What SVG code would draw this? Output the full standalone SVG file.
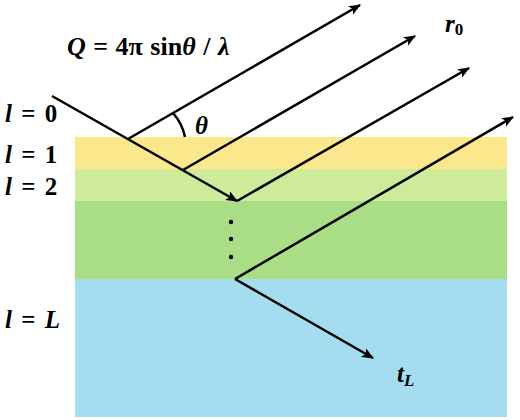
<svg xmlns="http://www.w3.org/2000/svg" width="520" height="420" viewBox="0 0 520 420">
<style>
.ray{stroke:#000;stroke-width:2.5;fill:none}
.arr{marker-end:url(#ah)}
.it{font-style:italic}
</style>
<defs>
<marker id="ah" viewBox="0 0 12 10" refX="11" refY="5" markerWidth="12" markerHeight="10" markerUnits="userSpaceOnUse" orient="auto">
<path d="M0,0 L12,5 L0,10 L3,5 Z" fill="#000"/>
</marker>
</defs>
<rect width="520" height="420" fill="#fff"/>
<g id="layers">
<rect id="layer1" x="75" y="137" width="432" height="32" fill="#FBE88C"/>
<rect id="layer2" x="75" y="169" width="432" height="32" fill="#CDEB9B"/>
<rect id="layer3" x="75" y="201" width="432" height="78" fill="#A9DE86"/>
<rect id="layerL" x="75" y="279" width="432" height="138" fill="#A3DDEF"/>
</g>
<g id="connectors">
<line class="ray arr" x1="52" y1="96" x2="237" y2="201"/>
<line class="ray arr" x1="128" y1="139" x2="360" y2="5"/>
<line class="ray arr" x1="183" y1="170" x2="415" y2="36"/>
<line class="ray arr" x1="237" y1="201" x2="469" y2="68"/>
<line class="ray arr" x1="235" y1="279" x2="513" y2="117"/>
<line class="ray arr" x1="235" y1="279" x2="373" y2="358"/>
<path class="ray" d="M173,113 A52,52 0 0 1 185,137" stroke-width="2"/>
</g>
<g id="dots" fill="#000">
<circle cx="231" cy="222" r="2.2"/>
<circle cx="231" cy="239" r="2.2"/>
<circle cx="231" cy="257" r="2.2"/>
</g>
<g id="labels" font-family="'Liberation Serif', 'Times New Roman', serif" font-weight="bold" font-size="25" fill="#000">
<text x="67" y="55" font-size="26" word-spacing="1"><tspan class="it">Q</tspan> = 4π sin<tspan class="it">θ</tspan> / <tspan class="it">λ</tspan></text>
<text class="it" x="195" y="134">θ</text>
<text x="5" y="122" word-spacing="3"><tspan class="it">l</tspan> = 0</text>
<text x="5" y="163" word-spacing="3"><tspan class="it">l</tspan> = 1</text>
<text x="5" y="195" word-spacing="3"><tspan class="it">l</tspan> = 2</text>
<text x="5" y="328" word-spacing="3"><tspan class="it">l</tspan> = <tspan class="it">L</tspan></text>
<text x="445" y="32"><tspan class="it">r</tspan><tspan font-size="17" dy="3">0</tspan></text>
<text x="397" y="382"><tspan class="it">t</tspan><tspan class="it" font-size="17" dy="4">L</tspan></text>
</g>
</svg>
